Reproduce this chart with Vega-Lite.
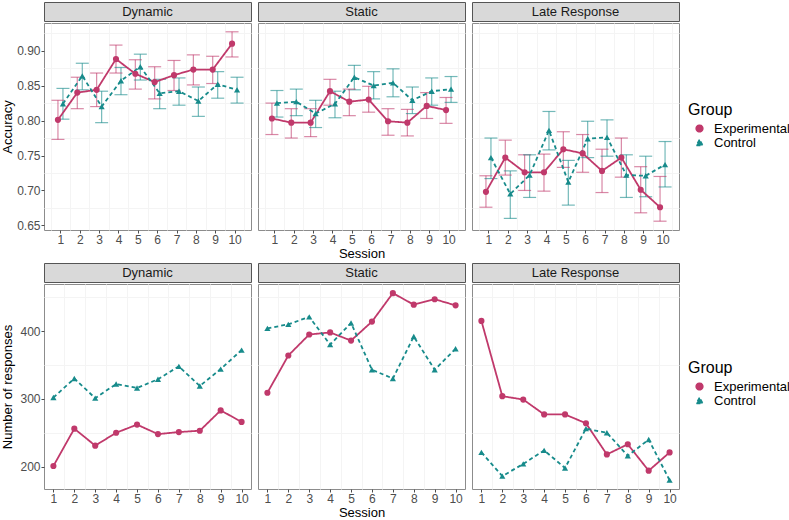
{
  "$schema": "https://vega.github.io/schema/vega-lite/v6.json",
  "padding": {"left": 0, "top": 1, "right": 0, "bottom": 0},
  "config": {
    "font": "Liberation Sans",
    "view": {"stroke": "#8c8c8c"},
    "axis": {"domain": false, "labelColor": "#4d4d4d", "labelFontSize": 12, "tickColor": "#4d4d4d", "tickSize": 3, "labelPadding": 1, "gridColor": "#ebebeb", "titleFontSize": 13, "titleFontWeight": "normal", "titleColor": "#000000", "titlePadding": 2},
    "legend": {"titleFontSize": 16, "titleFontWeight": "normal", "titleColor": "#000000", "labelFontSize": 13, "labelColor": "#000000", "symbolSize": 45, "symbolOffset": 5, "labelOffset": 8, "rowPadding": 0, "titlePadding": 4, "padding": 0}
  },
  "datasets": {
    "acc": [
      {"Panel": "Dynamic", "Group": "Experimental", "Session": 1, "Accuracy": 0.801, "Lower": 0.773, "Upper": 0.829},
      {"Panel": "Dynamic", "Group": "Experimental", "Session": 2, "Accuracy": 0.840, "Lower": 0.817, "Upper": 0.862},
      {"Panel": "Dynamic", "Group": "Experimental", "Session": 3, "Accuracy": 0.844, "Lower": 0.820, "Upper": 0.868},
      {"Panel": "Dynamic", "Group": "Experimental", "Session": 4, "Accuracy": 0.888, "Lower": 0.868, "Upper": 0.908},
      {"Panel": "Dynamic", "Group": "Experimental", "Session": 5, "Accuracy": 0.867, "Lower": 0.845, "Upper": 0.887},
      {"Panel": "Dynamic", "Group": "Experimental", "Session": 6, "Accuracy": 0.855, "Lower": 0.831, "Upper": 0.877},
      {"Panel": "Dynamic", "Group": "Experimental", "Session": 7, "Accuracy": 0.865, "Lower": 0.843, "Upper": 0.886},
      {"Panel": "Dynamic", "Group": "Experimental", "Session": 8, "Accuracy": 0.873, "Lower": 0.851, "Upper": 0.894},
      {"Panel": "Dynamic", "Group": "Experimental", "Session": 9, "Accuracy": 0.873, "Lower": 0.853, "Upper": 0.892},
      {"Panel": "Dynamic", "Group": "Experimental", "Session": 10, "Accuracy": 0.910, "Lower": 0.891, "Upper": 0.927},
      {"Panel": "Dynamic", "Group": "Control", "Session": 1, "Accuracy": 0.824, "Lower": 0.802, "Upper": 0.846},
      {"Panel": "Dynamic", "Group": "Control", "Session": 2, "Accuracy": 0.864, "Lower": 0.844, "Upper": 0.882},
      {"Panel": "Dynamic", "Group": "Control", "Session": 3, "Accuracy": 0.820, "Lower": 0.797, "Upper": 0.842},
      {"Panel": "Dynamic", "Group": "Control", "Session": 4, "Accuracy": 0.857, "Lower": 0.837, "Upper": 0.876},
      {"Panel": "Dynamic", "Group": "Control", "Session": 5, "Accuracy": 0.877, "Lower": 0.858, "Upper": 0.895},
      {"Panel": "Dynamic", "Group": "Control", "Session": 6, "Accuracy": 0.839, "Lower": 0.817, "Upper": 0.859},
      {"Panel": "Dynamic", "Group": "Control", "Session": 7, "Accuracy": 0.842, "Lower": 0.822, "Upper": 0.861},
      {"Panel": "Dynamic", "Group": "Control", "Session": 8, "Accuracy": 0.828, "Lower": 0.806, "Upper": 0.848},
      {"Panel": "Dynamic", "Group": "Control", "Session": 9, "Accuracy": 0.852, "Lower": 0.832, "Upper": 0.870},
      {"Panel": "Dynamic", "Group": "Control", "Session": 10, "Accuracy": 0.844, "Lower": 0.825, "Upper": 0.862},
      {"Panel": "Static", "Group": "Experimental", "Session": 1, "Accuracy": 0.803, "Lower": 0.780, "Upper": 0.825},
      {"Panel": "Static", "Group": "Experimental", "Session": 2, "Accuracy": 0.797, "Lower": 0.775, "Upper": 0.817},
      {"Panel": "Static", "Group": "Experimental", "Session": 3, "Accuracy": 0.797, "Lower": 0.777, "Upper": 0.817},
      {"Panel": "Static", "Group": "Experimental", "Session": 4, "Accuracy": 0.842, "Lower": 0.822, "Upper": 0.859},
      {"Panel": "Static", "Group": "Experimental", "Session": 5, "Accuracy": 0.827, "Lower": 0.807, "Upper": 0.845},
      {"Panel": "Static", "Group": "Experimental", "Session": 6, "Accuracy": 0.830, "Lower": 0.812, "Upper": 0.849},
      {"Panel": "Static", "Group": "Experimental", "Session": 7, "Accuracy": 0.799, "Lower": 0.779, "Upper": 0.817},
      {"Panel": "Static", "Group": "Experimental", "Session": 8, "Accuracy": 0.797, "Lower": 0.778, "Upper": 0.816},
      {"Panel": "Static", "Group": "Experimental", "Session": 9, "Accuracy": 0.821, "Lower": 0.803, "Upper": 0.840},
      {"Panel": "Static", "Group": "Experimental", "Session": 10, "Accuracy": 0.815, "Lower": 0.796, "Upper": 0.833},
      {"Panel": "Static", "Group": "Control", "Session": 1, "Accuracy": 0.825, "Lower": 0.805, "Upper": 0.843},
      {"Panel": "Static", "Group": "Control", "Session": 2, "Accuracy": 0.827, "Lower": 0.807, "Upper": 0.845},
      {"Panel": "Static", "Group": "Control", "Session": 3, "Accuracy": 0.810, "Lower": 0.790, "Upper": 0.829},
      {"Panel": "Static", "Group": "Control", "Session": 4, "Accuracy": 0.824, "Lower": 0.804, "Upper": 0.842},
      {"Panel": "Static", "Group": "Control", "Session": 5, "Accuracy": 0.862, "Lower": 0.844, "Upper": 0.879},
      {"Panel": "Static", "Group": "Control", "Session": 6, "Accuracy": 0.850, "Lower": 0.831, "Upper": 0.870},
      {"Panel": "Static", "Group": "Control", "Session": 7, "Accuracy": 0.854, "Lower": 0.834, "Upper": 0.874},
      {"Panel": "Static", "Group": "Control", "Session": 8, "Accuracy": 0.829, "Lower": 0.810, "Upper": 0.848},
      {"Panel": "Static", "Group": "Control", "Session": 9, "Accuracy": 0.842, "Lower": 0.822, "Upper": 0.861},
      {"Panel": "Static", "Group": "Control", "Session": 10, "Accuracy": 0.845, "Lower": 0.826, "Upper": 0.863},
      {"Panel": "Late Response", "Group": "Experimental", "Session": 1, "Accuracy": 0.698, "Lower": 0.676, "Upper": 0.721},
      {"Panel": "Late Response", "Group": "Experimental", "Session": 2, "Accuracy": 0.747, "Lower": 0.722, "Upper": 0.772},
      {"Panel": "Late Response", "Group": "Experimental", "Session": 3, "Accuracy": 0.726, "Lower": 0.700, "Upper": 0.751},
      {"Panel": "Late Response", "Group": "Experimental", "Session": 4, "Accuracy": 0.726, "Lower": 0.699, "Upper": 0.752},
      {"Panel": "Late Response", "Group": "Experimental", "Session": 5, "Accuracy": 0.759, "Lower": 0.733, "Upper": 0.784},
      {"Panel": "Late Response", "Group": "Experimental", "Session": 6, "Accuracy": 0.753, "Lower": 0.726, "Upper": 0.780},
      {"Panel": "Late Response", "Group": "Experimental", "Session": 7, "Accuracy": 0.728, "Lower": 0.697, "Upper": 0.759},
      {"Panel": "Late Response", "Group": "Experimental", "Session": 8, "Accuracy": 0.747, "Lower": 0.719, "Upper": 0.775},
      {"Panel": "Late Response", "Group": "Experimental", "Session": 9, "Accuracy": 0.701, "Lower": 0.668, "Upper": 0.734},
      {"Panel": "Late Response", "Group": "Experimental", "Session": 10, "Accuracy": 0.676, "Lower": 0.656, "Upper": 0.720},
      {"Panel": "Late Response", "Group": "Control", "Session": 1, "Accuracy": 0.747, "Lower": 0.717, "Upper": 0.775},
      {"Panel": "Late Response", "Group": "Control", "Session": 2, "Accuracy": 0.695, "Lower": 0.660, "Upper": 0.728},
      {"Panel": "Late Response", "Group": "Control", "Session": 3, "Accuracy": 0.722, "Lower": 0.690, "Upper": 0.751},
      {"Panel": "Late Response", "Group": "Control", "Session": 4, "Accuracy": 0.786, "Lower": 0.758, "Upper": 0.813},
      {"Panel": "Late Response", "Group": "Control", "Session": 5, "Accuracy": 0.712, "Lower": 0.679, "Upper": 0.743},
      {"Panel": "Late Response", "Group": "Control", "Session": 6, "Accuracy": 0.774, "Lower": 0.747, "Upper": 0.799},
      {"Panel": "Late Response", "Group": "Control", "Session": 7, "Accuracy": 0.776, "Lower": 0.749, "Upper": 0.801},
      {"Panel": "Late Response", "Group": "Control", "Session": 8, "Accuracy": 0.722, "Lower": 0.690, "Upper": 0.751},
      {"Panel": "Late Response", "Group": "Control", "Session": 9, "Accuracy": 0.721, "Lower": 0.691, "Upper": 0.749},
      {"Panel": "Late Response", "Group": "Control", "Session": 10, "Accuracy": 0.737, "Lower": 0.705, "Upper": 0.770}
    ],
    "resp": [
      {"Panel": "Dynamic", "Group": "Experimental", "Session": 1, "Responses": 201},
      {"Panel": "Dynamic", "Group": "Experimental", "Session": 2, "Responses": 256},
      {"Panel": "Dynamic", "Group": "Experimental", "Session": 3, "Responses": 231},
      {"Panel": "Dynamic", "Group": "Experimental", "Session": 4, "Responses": 250},
      {"Panel": "Dynamic", "Group": "Experimental", "Session": 5, "Responses": 262},
      {"Panel": "Dynamic", "Group": "Experimental", "Session": 6, "Responses": 248},
      {"Panel": "Dynamic", "Group": "Experimental", "Session": 7, "Responses": 251},
      {"Panel": "Dynamic", "Group": "Experimental", "Session": 8, "Responses": 253},
      {"Panel": "Dynamic", "Group": "Experimental", "Session": 9, "Responses": 283},
      {"Panel": "Dynamic", "Group": "Experimental", "Session": 10, "Responses": 266},
      {"Panel": "Dynamic", "Group": "Control", "Session": 1, "Responses": 302},
      {"Panel": "Dynamic", "Group": "Control", "Session": 2, "Responses": 330},
      {"Panel": "Dynamic", "Group": "Control", "Session": 3, "Responses": 301},
      {"Panel": "Dynamic", "Group": "Control", "Session": 4, "Responses": 322},
      {"Panel": "Dynamic", "Group": "Control", "Session": 5, "Responses": 316},
      {"Panel": "Dynamic", "Group": "Control", "Session": 6, "Responses": 329},
      {"Panel": "Dynamic", "Group": "Control", "Session": 7, "Responses": 348},
      {"Panel": "Dynamic", "Group": "Control", "Session": 8, "Responses": 319},
      {"Panel": "Dynamic", "Group": "Control", "Session": 9, "Responses": 344},
      {"Panel": "Dynamic", "Group": "Control", "Session": 10, "Responses": 372},
      {"Panel": "Static", "Group": "Experimental", "Session": 1, "Responses": 309},
      {"Panel": "Static", "Group": "Experimental", "Session": 2, "Responses": 364},
      {"Panel": "Static", "Group": "Experimental", "Session": 3, "Responses": 395},
      {"Panel": "Static", "Group": "Experimental", "Session": 4, "Responses": 398},
      {"Panel": "Static", "Group": "Experimental", "Session": 5, "Responses": 386},
      {"Panel": "Static", "Group": "Experimental", "Session": 6, "Responses": 414},
      {"Panel": "Static", "Group": "Experimental", "Session": 7, "Responses": 456},
      {"Panel": "Static", "Group": "Experimental", "Session": 8, "Responses": 439},
      {"Panel": "Static", "Group": "Experimental", "Session": 9, "Responses": 447},
      {"Panel": "Static", "Group": "Experimental", "Session": 10, "Responses": 438},
      {"Panel": "Static", "Group": "Control", "Session": 1, "Responses": 404},
      {"Panel": "Static", "Group": "Control", "Session": 2, "Responses": 410},
      {"Panel": "Static", "Group": "Control", "Session": 3, "Responses": 421},
      {"Panel": "Static", "Group": "Control", "Session": 4, "Responses": 380},
      {"Panel": "Static", "Group": "Control", "Session": 5, "Responses": 412},
      {"Panel": "Static", "Group": "Control", "Session": 6, "Responses": 343},
      {"Panel": "Static", "Group": "Control", "Session": 7, "Responses": 330},
      {"Panel": "Static", "Group": "Control", "Session": 8, "Responses": 392},
      {"Panel": "Static", "Group": "Control", "Session": 9, "Responses": 343},
      {"Panel": "Static", "Group": "Control", "Session": 10, "Responses": 374},
      {"Panel": "Late Response", "Group": "Experimental", "Session": 1, "Responses": 415},
      {"Panel": "Late Response", "Group": "Experimental", "Session": 2, "Responses": 304},
      {"Panel": "Late Response", "Group": "Experimental", "Session": 3, "Responses": 299},
      {"Panel": "Late Response", "Group": "Experimental", "Session": 4, "Responses": 277},
      {"Panel": "Late Response", "Group": "Experimental", "Session": 5, "Responses": 277},
      {"Panel": "Late Response", "Group": "Experimental", "Session": 6, "Responses": 264},
      {"Panel": "Late Response", "Group": "Experimental", "Session": 7, "Responses": 218},
      {"Panel": "Late Response", "Group": "Experimental", "Session": 8, "Responses": 233},
      {"Panel": "Late Response", "Group": "Experimental", "Session": 9, "Responses": 194},
      {"Panel": "Late Response", "Group": "Experimental", "Session": 10, "Responses": 221},
      {"Panel": "Late Response", "Group": "Control", "Session": 1, "Responses": 221},
      {"Panel": "Late Response", "Group": "Control", "Session": 2, "Responses": 186},
      {"Panel": "Late Response", "Group": "Control", "Session": 3, "Responses": 204},
      {"Panel": "Late Response", "Group": "Control", "Session": 4, "Responses": 224},
      {"Panel": "Late Response", "Group": "Control", "Session": 5, "Responses": 198},
      {"Panel": "Late Response", "Group": "Control", "Session": 6, "Responses": 256},
      {"Panel": "Late Response", "Group": "Control", "Session": 7, "Responses": 250},
      {"Panel": "Late Response", "Group": "Control", "Session": 8, "Responses": 216},
      {"Panel": "Late Response", "Group": "Control", "Session": 9, "Responses": 240},
      {"Panel": "Late Response", "Group": "Control", "Session": 10, "Responses": 180}
    ]
  },
  "resolve": {"scale": {"color": "independent", "shape": "independent", "strokeDash": "independent"}},
  "spacing": 1,
  "vconcat": [
    {
      "spacing": 5,
      "hconcat": [
        {
          "spacing": 0,
          "vconcat": [
            {"width": 207, "height": 19, "data": {"values": [{"label": "Dynamic"}]}, "view": {"fill": "#d9d9d9", "stroke": "#555555"}, "mark": {"type": "text", "fontSize": 13, "color": "#1a1a1a"}, "encoding": {"text": {"field": "label"}}},
            {
              "width": 207, "height": 207,
              "data": {"name": "acc"},
              "transform": [{"filter": "datum.Panel === 'Dynamic'"}],
              "resolve": {"axis": {"x": "independent", "y": "independent"}},
              "layer": [
                {"mark": {"type": "rule", "strokeWidth": 1.2, "strokeOpacity": 0.6, "xOffset": {"expr": "datum.Group === 'Experimental' ? -2.5 : 2.5"}},
                 "encoding": {
                   "x": {"field": "Session", "type": "quantitative", "scale": {"domain": [0.15, 10.85], "nice": false, "zero": false}, "axis": {"orient": "bottom", "values": [0.5,1.5,2.5,3.5,4.5,5.5,6.5,7.5,8.5,9.5,10.5], "labels": false, "ticks": false, "title": null, "gridColor": "#f4f4f4"}},
                   "y": {"field": "Lower", "type": "quantitative", "scale": {"domain": [0.6434, 0.9396], "nice": false, "zero": false}, "axis": {"orient": "left", "values": [0.675,0.725,0.775,0.825,0.875,0.925], "labels": false, "ticks": false, "title": null, "gridColor": "#f4f4f4"}},
                   "y2": {"field": "Upper"},
                   "color": {"field": "Group", "type": "nominal", "scale": {"domain": ["Experimental", "Control"], "range": ["#C0396B", "#178B8B"]}, "legend": {"title": "Group", "orient": "none", "legendX": 644, "legendY": 100}}
                 }},
                {"mark": {"type": "tick", "orient": "horizontal", "size": 13, "thickness": 1.2, "strokeOpacity": 0.6, "fillOpacity": 0.6, "xOffset": {"expr": "datum.Group === 'Experimental' ? -2.5 : 2.5"}},
                 "encoding": {
                   "x": {"field": "Session", "type": "quantitative", "axis": null},
                   "y": {"field": "Lower", "type": "quantitative", "axis": null},
                   "color": {"field": "Group", "type": "nominal", "legend": {"title": "Group", "orient": "none", "legendX": 644, "legendY": 100}}
                 }},
                {"mark": {"type": "tick", "orient": "horizontal", "size": 13, "thickness": 1.2, "strokeOpacity": 0.6, "fillOpacity": 0.6, "xOffset": {"expr": "datum.Group === 'Experimental' ? -2.5 : 2.5"}},
                 "encoding": {
                   "x": {"field": "Session", "type": "quantitative", "axis": null},
                   "y": {"field": "Upper", "type": "quantitative", "axis": null},
                   "color": {"field": "Group", "type": "nominal", "legend": {"title": "Group", "orient": "none", "legendX": 644, "legendY": 100}}
                 }},
                {"mark": {"type": "line", "strokeWidth": 1.8, "xOffset": {"expr": "datum.Group === 'Experimental' ? -2.5 : 2.5"}},
                 "encoding": {
                   "x": {"field": "Session", "type": "quantitative", "axis": {"orient": "bottom", "values": [1,2,3,4,5,6,7,8,9,10], "title": null}},
                   "y": {"field": "Accuracy", "type": "quantitative", "axis": {"orient": "left", "values": [0.65,0.70,0.75,0.80,0.85,0.90], "format": ".2f", "title": "Accuracy", "minExtent": 28, "maxExtent": 28}},
                   "color": {"field": "Group", "type": "nominal", "legend": {"title": "Group", "orient": "none", "legendX": 644, "legendY": 100}},
                   "strokeDash": {"field": "Group", "type": "nominal", "scale": {"domain": ["Experimental", "Control"], "range": [[1, 0], [4, 3]]}, "legend": null}
                 }},
                {"mark": {"type": "point", "filled": true, "size": 38, "opacity": 1, "xOffset": {"expr": "datum.Group === 'Experimental' ? -2.5 : 2.5"}},
                 "encoding": {
                   "x": {"field": "Session", "type": "quantitative", "axis": null},
                   "y": {"field": "Accuracy", "type": "quantitative", "axis": null},
                   "color": {"field": "Group", "type": "nominal", "legend": {"title": "Group", "orient": "none", "legendX": 644, "legendY": 100}},
                   "shape": {"field": "Group", "type": "nominal", "scale": {"domain": ["Experimental", "Control"], "range": ["circle", "triangle-up"]}, "legend": {"title": "Group", "orient": "none", "legendX": 644, "legendY": 100}}
                 }}
              ]
            }
          ]
        },
        {
          "spacing": 0,
          "vconcat": [
            {"width": 207, "height": 19, "data": {"values": [{"label": "Static"}]}, "view": {"fill": "#d9d9d9", "stroke": "#555555"}, "mark": {"type": "text", "fontSize": 13, "color": "#1a1a1a"}, "encoding": {"text": {"field": "label"}}},
            {
              "width": 207, "height": 207,
              "data": {"name": "acc"},
              "transform": [{"filter": "datum.Panel === 'Static'"}],
              "resolve": {"axis": {"x": "independent", "y": "independent"}},
              "layer": [
                {"mark": {"type": "rule", "strokeWidth": 1.2, "strokeOpacity": 0.6, "xOffset": {"expr": "datum.Group === 'Experimental' ? -2.5 : 2.5"}},
                 "encoding": {
                   "x": {"field": "Session", "type": "quantitative", "scale": {"domain": [0.15, 10.85], "nice": false, "zero": false}, "axis": {"orient": "bottom", "values": [0.5,1.5,2.5,3.5,4.5,5.5,6.5,7.5,8.5,9.5,10.5], "labels": false, "ticks": false, "title": null, "gridColor": "#f4f4f4"}},
                   "y": {"field": "Lower", "type": "quantitative", "scale": {"domain": [0.6434, 0.9396], "nice": false, "zero": false}, "axis": {"orient": "left", "values": [0.675,0.725,0.775,0.825,0.875,0.925], "labels": false, "ticks": false, "title": null, "gridColor": "#f4f4f4"}},
                   "y2": {"field": "Upper"},
                   "color": {"field": "Group", "type": "nominal", "scale": {"domain": ["Experimental", "Control"], "range": ["#C0396B", "#178B8B"]}, "legend": {"title": "Group", "orient": "none", "legendX": 644, "legendY": 100}}
                 }},
                {"mark": {"type": "tick", "orient": "horizontal", "size": 13, "thickness": 1.2, "strokeOpacity": 0.6, "fillOpacity": 0.6, "xOffset": {"expr": "datum.Group === 'Experimental' ? -2.5 : 2.5"}},
                 "encoding": {
                   "x": {"field": "Session", "type": "quantitative", "axis": null},
                   "y": {"field": "Lower", "type": "quantitative", "axis": null},
                   "color": {"field": "Group", "type": "nominal", "legend": {"title": "Group", "orient": "none", "legendX": 644, "legendY": 100}}
                 }},
                {"mark": {"type": "tick", "orient": "horizontal", "size": 13, "thickness": 1.2, "strokeOpacity": 0.6, "fillOpacity": 0.6, "xOffset": {"expr": "datum.Group === 'Experimental' ? -2.5 : 2.5"}},
                 "encoding": {
                   "x": {"field": "Session", "type": "quantitative", "axis": null},
                   "y": {"field": "Upper", "type": "quantitative", "axis": null},
                   "color": {"field": "Group", "type": "nominal", "legend": {"title": "Group", "orient": "none", "legendX": 644, "legendY": 100}}
                 }},
                {"mark": {"type": "line", "strokeWidth": 1.8, "xOffset": {"expr": "datum.Group === 'Experimental' ? -2.5 : 2.5"}},
                 "encoding": {
                   "x": {"field": "Session", "type": "quantitative", "axis": {"orient": "bottom", "values": [1,2,3,4,5,6,7,8,9,10], "title": "Session"}},
                   "y": {"field": "Accuracy", "type": "quantitative", "axis": {"orient": "left", "values": [0.65,0.70,0.75,0.80,0.85,0.90], "labels": false, "ticks": false, "title": null}},
                   "color": {"field": "Group", "type": "nominal", "legend": {"title": "Group", "orient": "none", "legendX": 644, "legendY": 100}},
                   "strokeDash": {"field": "Group", "type": "nominal", "scale": {"domain": ["Experimental", "Control"], "range": [[1, 0], [4, 3]]}, "legend": null}
                 }},
                {"mark": {"type": "point", "filled": true, "size": 38, "opacity": 1, "xOffset": {"expr": "datum.Group === 'Experimental' ? -2.5 : 2.5"}},
                 "encoding": {
                   "x": {"field": "Session", "type": "quantitative", "axis": null},
                   "y": {"field": "Accuracy", "type": "quantitative", "axis": null},
                   "color": {"field": "Group", "type": "nominal", "legend": {"title": "Group", "orient": "none", "legendX": 644, "legendY": 100}},
                   "shape": {"field": "Group", "type": "nominal", "scale": {"domain": ["Experimental", "Control"], "range": ["circle", "triangle-up"]}, "legend": {"title": "Group", "orient": "none", "legendX": 644, "legendY": 100}}
                 }}
              ]
            }
          ]
        },
        {
          "spacing": 0,
          "vconcat": [
            {"width": 207, "height": 19, "data": {"values": [{"label": "Late Response"}]}, "view": {"fill": "#d9d9d9", "stroke": "#555555"}, "mark": {"type": "text", "fontSize": 13, "color": "#1a1a1a"}, "encoding": {"text": {"field": "label"}}},
            {
              "width": 207, "height": 207,
              "data": {"name": "acc"},
              "transform": [{"filter": "datum.Panel === 'Late Response'"}],
              "resolve": {"axis": {"x": "independent", "y": "independent"}},
              "layer": [
                {"mark": {"type": "rule", "strokeWidth": 1.2, "strokeOpacity": 0.6, "xOffset": {"expr": "datum.Group === 'Experimental' ? -2.5 : 2.5"}},
                 "encoding": {
                   "x": {"field": "Session", "type": "quantitative", "scale": {"domain": [0.15, 10.85], "nice": false, "zero": false}, "axis": {"orient": "bottom", "values": [0.5,1.5,2.5,3.5,4.5,5.5,6.5,7.5,8.5,9.5,10.5], "labels": false, "ticks": false, "title": null, "gridColor": "#f4f4f4"}},
                   "y": {"field": "Lower", "type": "quantitative", "scale": {"domain": [0.6434, 0.9396], "nice": false, "zero": false}, "axis": {"orient": "left", "values": [0.675,0.725,0.775,0.825,0.875,0.925], "labels": false, "ticks": false, "title": null, "gridColor": "#f4f4f4"}},
                   "y2": {"field": "Upper"},
                   "color": {"field": "Group", "type": "nominal", "scale": {"domain": ["Experimental", "Control"], "range": ["#C0396B", "#178B8B"]}, "legend": {"title": "Group", "orient": "none", "legendX": 644, "legendY": 100}}
                 }},
                {"mark": {"type": "tick", "orient": "horizontal", "size": 13, "thickness": 1.2, "strokeOpacity": 0.6, "fillOpacity": 0.6, "xOffset": {"expr": "datum.Group === 'Experimental' ? -2.5 : 2.5"}},
                 "encoding": {
                   "x": {"field": "Session", "type": "quantitative", "axis": null},
                   "y": {"field": "Lower", "type": "quantitative", "axis": null},
                   "color": {"field": "Group", "type": "nominal", "legend": {"title": "Group", "orient": "none", "legendX": 644, "legendY": 100}}
                 }},
                {"mark": {"type": "tick", "orient": "horizontal", "size": 13, "thickness": 1.2, "strokeOpacity": 0.6, "fillOpacity": 0.6, "xOffset": {"expr": "datum.Group === 'Experimental' ? -2.5 : 2.5"}},
                 "encoding": {
                   "x": {"field": "Session", "type": "quantitative", "axis": null},
                   "y": {"field": "Upper", "type": "quantitative", "axis": null},
                   "color": {"field": "Group", "type": "nominal", "legend": {"title": "Group", "orient": "none", "legendX": 644, "legendY": 100}}
                 }},
                {"mark": {"type": "line", "strokeWidth": 1.8, "xOffset": {"expr": "datum.Group === 'Experimental' ? -2.5 : 2.5"}},
                 "encoding": {
                   "x": {"field": "Session", "type": "quantitative", "axis": {"orient": "bottom", "values": [1,2,3,4,5,6,7,8,9,10], "title": null}},
                   "y": {"field": "Accuracy", "type": "quantitative", "axis": {"orient": "left", "values": [0.65,0.70,0.75,0.80,0.85,0.90], "labels": false, "ticks": false, "title": null}},
                   "color": {"field": "Group", "type": "nominal", "legend": {"title": "Group", "orient": "none", "legendX": 644, "legendY": 100}},
                   "strokeDash": {"field": "Group", "type": "nominal", "scale": {"domain": ["Experimental", "Control"], "range": [[1, 0], [4, 3]]}, "legend": null}
                 }},
                {"mark": {"type": "point", "filled": true, "size": 38, "opacity": 1, "xOffset": {"expr": "datum.Group === 'Experimental' ? -2.5 : 2.5"}},
                 "encoding": {
                   "x": {"field": "Session", "type": "quantitative", "axis": null},
                   "y": {"field": "Accuracy", "type": "quantitative", "axis": null},
                   "color": {"field": "Group", "type": "nominal", "legend": {"title": "Group", "orient": "none", "legendX": 644, "legendY": 100}},
                   "shape": {"field": "Group", "type": "nominal", "scale": {"domain": ["Experimental", "Control"], "range": ["circle", "triangle-up"]}, "legend": {"title": "Group", "orient": "none", "legendX": 644, "legendY": 100}}
                 }}
              ]
            }
          ]
        }
      ]
    },
    {
      "spacing": 5,
      "hconcat": [
        {
          "spacing": 0,
          "vconcat": [
            {"width": 207, "height": 19, "data": {"values": [{"label": "Dynamic"}]}, "view": {"fill": "#d9d9d9", "stroke": "#555555"}, "mark": {"type": "text", "fontSize": 13, "color": "#1a1a1a"}, "encoding": {"text": {"field": "label"}}},
            {
              "width": 207, "height": 205,
              "data": {"name": "resp"},
              "transform": [{"filter": "datum.Panel === 'Dynamic'"}],
              "resolve": {"axis": {"x": "independent", "y": "independent"}},
              "layer": [
                {"mark": {"type": "line", "strokeWidth": 1.8},
                 "encoding": {
                   "x": {"field": "Session", "type": "quantitative", "scale": {"domain": [0.55, 10.45], "nice": false, "zero": false}, "axis": {"orient": "bottom", "values": [1.5,2.5,3.5,4.5,5.5,6.5,7.5,8.5,9.5], "labels": false, "ticks": false, "title": null, "gridColor": "#f4f4f4"}},
                   "y": {"field": "Responses", "type": "quantitative", "scale": {"domain": [167, 469.5], "nice": false, "zero": false}, "axis": {"orient": "left", "values": [250, 350, 450], "labels": false, "ticks": false, "title": null, "gridColor": "#f4f4f4"}},
                   "color": {"field": "Group", "type": "nominal", "scale": {"domain": ["Experimental", "Control"], "range": ["#C0396B", "#178B8B"]}, "legend": {"title": "Group", "orient": "none", "legendX": 644, "legendY": 97}},
                   "strokeDash": {"field": "Group", "type": "nominal", "scale": {"domain": ["Experimental", "Control"], "range": [[1, 0], [4, 3]]}, "legend": null}
                 }},
                {"mark": {"type": "point", "filled": true, "size": 38, "opacity": 1},
                 "encoding": {
                   "x": {"field": "Session", "type": "quantitative", "axis": {"orient": "bottom", "values": [1,2,3,4,5,6,7,8,9,10], "title": null}},
                   "y": {"field": "Responses", "type": "quantitative", "axis": {"orient": "left", "values": [200, 300, 400], "title": "Number of responses", "minExtent": 28, "maxExtent": 28}},
                   "color": {"field": "Group", "type": "nominal", "legend": {"title": "Group", "orient": "none", "legendX": 644, "legendY": 97}},
                   "shape": {"field": "Group", "type": "nominal", "scale": {"domain": ["Experimental", "Control"], "range": ["circle", "triangle-up"]}, "legend": {"title": "Group", "orient": "none", "legendX": 644, "legendY": 97}}
                 }}
              ]
            }
          ]
        },
        {
          "spacing": 0,
          "vconcat": [
            {"width": 207, "height": 19, "data": {"values": [{"label": "Static"}]}, "view": {"fill": "#d9d9d9", "stroke": "#555555"}, "mark": {"type": "text", "fontSize": 13, "color": "#1a1a1a"}, "encoding": {"text": {"field": "label"}}},
            {
              "width": 207, "height": 205,
              "data": {"name": "resp"},
              "transform": [{"filter": "datum.Panel === 'Static'"}],
              "resolve": {"axis": {"x": "independent", "y": "independent"}},
              "layer": [
                {"mark": {"type": "line", "strokeWidth": 1.8},
                 "encoding": {
                   "x": {"field": "Session", "type": "quantitative", "scale": {"domain": [0.55, 10.45], "nice": false, "zero": false}, "axis": {"orient": "bottom", "values": [1.5,2.5,3.5,4.5,5.5,6.5,7.5,8.5,9.5], "labels": false, "ticks": false, "title": null, "gridColor": "#f4f4f4"}},
                   "y": {"field": "Responses", "type": "quantitative", "scale": {"domain": [167, 469.5], "nice": false, "zero": false}, "axis": {"orient": "left", "values": [250, 350, 450], "labels": false, "ticks": false, "title": null, "gridColor": "#f4f4f4"}},
                   "color": {"field": "Group", "type": "nominal", "scale": {"domain": ["Experimental", "Control"], "range": ["#C0396B", "#178B8B"]}, "legend": {"title": "Group", "orient": "none", "legendX": 644, "legendY": 97}},
                   "strokeDash": {"field": "Group", "type": "nominal", "scale": {"domain": ["Experimental", "Control"], "range": [[1, 0], [4, 3]]}, "legend": null}
                 }},
                {"mark": {"type": "point", "filled": true, "size": 38, "opacity": 1},
                 "encoding": {
                   "x": {"field": "Session", "type": "quantitative", "axis": {"orient": "bottom", "values": [1,2,3,4,5,6,7,8,9,10], "title": "Session"}},
                   "y": {"field": "Responses", "type": "quantitative", "axis": {"orient": "left", "values": [200, 300, 400], "labels": false, "ticks": false, "title": null}},
                   "color": {"field": "Group", "type": "nominal", "legend": {"title": "Group", "orient": "none", "legendX": 644, "legendY": 97}},
                   "shape": {"field": "Group", "type": "nominal", "scale": {"domain": ["Experimental", "Control"], "range": ["circle", "triangle-up"]}, "legend": {"title": "Group", "orient": "none", "legendX": 644, "legendY": 97}}
                 }}
              ]
            }
          ]
        },
        {
          "spacing": 0,
          "vconcat": [
            {"width": 207, "height": 19, "data": {"values": [{"label": "Late Response"}]}, "view": {"fill": "#d9d9d9", "stroke": "#555555"}, "mark": {"type": "text", "fontSize": 13, "color": "#1a1a1a"}, "encoding": {"text": {"field": "label"}}},
            {
              "width": 207, "height": 205,
              "data": {"name": "resp"},
              "transform": [{"filter": "datum.Panel === 'Late Response'"}],
              "resolve": {"axis": {"x": "independent", "y": "independent"}},
              "layer": [
                {"mark": {"type": "line", "strokeWidth": 1.8},
                 "encoding": {
                   "x": {"field": "Session", "type": "quantitative", "scale": {"domain": [0.55, 10.45], "nice": false, "zero": false}, "axis": {"orient": "bottom", "values": [1.5,2.5,3.5,4.5,5.5,6.5,7.5,8.5,9.5], "labels": false, "ticks": false, "title": null, "gridColor": "#f4f4f4"}},
                   "y": {"field": "Responses", "type": "quantitative", "scale": {"domain": [167, 469.5], "nice": false, "zero": false}, "axis": {"orient": "left", "values": [250, 350, 450], "labels": false, "ticks": false, "title": null, "gridColor": "#f4f4f4"}},
                   "color": {"field": "Group", "type": "nominal", "scale": {"domain": ["Experimental", "Control"], "range": ["#C0396B", "#178B8B"]}, "legend": {"title": "Group", "orient": "none", "legendX": 644, "legendY": 97}},
                   "strokeDash": {"field": "Group", "type": "nominal", "scale": {"domain": ["Experimental", "Control"], "range": [[1, 0], [4, 3]]}, "legend": null}
                 }},
                {"mark": {"type": "point", "filled": true, "size": 38, "opacity": 1},
                 "encoding": {
                   "x": {"field": "Session", "type": "quantitative", "axis": {"orient": "bottom", "values": [1,2,3,4,5,6,7,8,9,10], "title": null}},
                   "y": {"field": "Responses", "type": "quantitative", "axis": {"orient": "left", "values": [200, 300, 400], "labels": false, "ticks": false, "title": null}},
                   "color": {"field": "Group", "type": "nominal", "legend": {"title": "Group", "orient": "none", "legendX": 644, "legendY": 97}},
                   "shape": {"field": "Group", "type": "nominal", "scale": {"domain": ["Experimental", "Control"], "range": ["circle", "triangle-up"]}, "legend": {"title": "Group", "orient": "none", "legendX": 644, "legendY": 97}}
                 }}
              ]
            }
          ]
        }
      ]
    }
  ]
}
